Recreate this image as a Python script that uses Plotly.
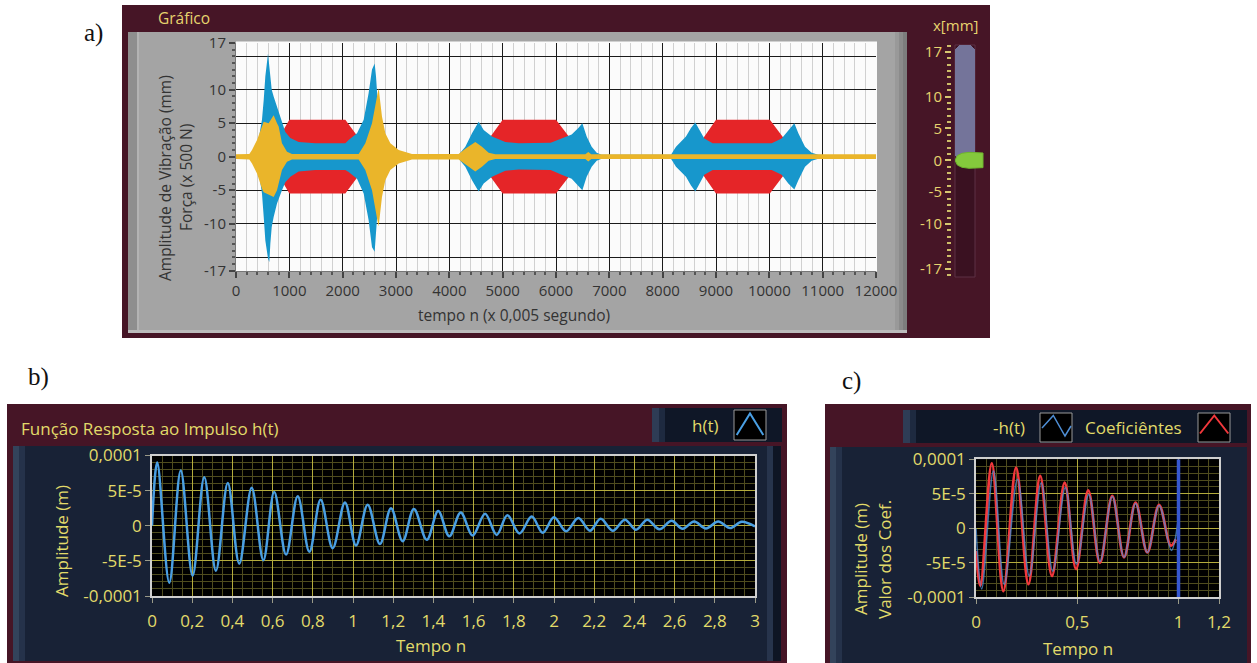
import plotly.graph_objects as go

W, H = 1257, 663
def PX(x): return x / W
def PY(y): return 1 - y / H

# ---------------- data: panel a (envelopes, x in samples) ----------------
a_xticks = [0, 1000, 2000, 3000, 4000, 5000, 6000, 7000, 8000, 9000, 10000, 11000, 12000]
a_yticks = [-17, -10, -5, 0, 5, 10, 17]
a_ygrid = [-15, -10, -5, 0, 5, 10, 15]

red_x = [0, 600, 1000, 2050, 2560, 4500, 5000, 6000, 6530, 8520, 9000, 10010, 10530, 12000]
red_amp = [0, 0, 5.5, 5.5, 0, 0, 5.5, 5.5, 0, 0, 5.5, 5.5, 0, 0]

blue_x = [0, 350, 400, 450, 487, 520, 550, 600, 625, 644, 670, 706, 769, 800, 862, 925, 1019, 1175,
          1487, 2050, 2112, 2269, 2394, 2487, 2550, 2600, 2625, 2644, 2700, 2750, 2800,
          4175, 4300, 4425, 4550, 4644, 4800, 5050, 5300, 5900, 6106, 6294, 6419, 6494, 6575, 6669, 6763, 6856,
          8156, 8250, 8437, 8531, 8612, 8687, 8781, 8937, 10044, 10231, 10356, 10469, 10544, 10669, 10794, 10919, 12000]
blue_hi = [0, 0.3, 1.5, 3.5, 5.5, 8.5, 12, 15.4, 13.5, 11.4, 10, 9, 7.5, 6.5, 5, 3.7, 2.8, 2.2,
           2.0, 2.0, 2.5, 3.5, 5.5, 9.5, 13, 13.9, 12, 10, 3, 1, 0.3,
           0.3, 1.5, 3.5, 5.2, 4.0, 3.0, 2.2, 2.0, 2.1, 2.7, 3.3, 4.3, 5.0, 3.0, 1.5, 0.6, 0.3,
           0.3, 1.5, 3.0, 4.3, 5.1, 4.0, 2.7, 2.0, 2.0, 2.7, 4.0, 5.0, 3.5, 1.5, 0.6, 0.3, 0]
blue_lo = [0, -0.3, -1.5, -3.5, -5.5, -9, -12.5, -15.2, -15.7, -13, -10.5, -9, -7, -6.2, -5, -3.8, -3, -2.2,
           -2.0, -2.0, -2.3, -3.3, -5.5, -9.5, -13.5, -14.2, -12, -9, -3, -1, -0.3,
           -0.3, -1.5, -3.5, -5.2, -4.0, -3.0, -2.1, -1.9, -2.0, -2.7, -3.3, -4.3, -5.0, -3.0, -1.5, -0.6, -0.3,
           -0.3, -1.5, -3.0, -4.3, -5.2, -4.0, -2.7, -2.0, -2.0, -2.7, -4.0, -4.9, -3.5, -1.5, -0.6, -0.3, 0]

yel_x = [0, 250, 300, 394, 487, 519, 612, 706, 769, 800, 862, 956, 1050, 2300, 2425, 2550, 2644, 2675,
         2737, 2800, 2894, 3050, 3300, 4175, 4300, 4487, 4612, 4737, 4862, 6550, 6606, 6660, 12000]
yel_hi = [0.35, 0.4, 1.0, 2.5, 4.5, 5.2, 5.0, 6.2, 5.0, 4.5, 2.0, 0.75, 0.4, 0.4, 2.0, 5.0, 9.0, 10.2,
          6.0, 3.5, 2.0, 1.0, 0.4, 0.4, 1.2, 2.2, 1.5, 0.6, 0.35, 0.35, 0.7, 0.35, 0.35]
yel_lo = [-0.35, -0.4, -1.0, -2.5, -4.8, -5.3, -5.6, -6.0, -5.0, -4.3, -2.0, -0.75, -0.4, -0.4, -2.0, -5.0, -9.2, -10.4,
          -6.0, -3.5, -2.0, -1.0, -0.4, -0.4, -1.2, -2.2, -1.5, -0.6, -0.35, -0.35, -0.7, -0.35, -0.35]

# slider
slider_ticks = [-17, -10, -5, 0, 5, 10, 17]
slider_value = 0.0

# ---------------- data: panel b ----------------
b_xticks = [0, 0.2, 0.4, 0.6, 0.8, 1, 1.2, 1.4, 1.6, 1.8, 2, 2.2, 2.4, 2.6, 2.8, 3]
b_xlabels = ["0", "0,2", "0,4", "0,6", "0,8", "1", "1,2", "1,4", "1,6", "1,8", "2", "2,2", "2,4", "2,6", "2,8", "3"]
amp_ticks = [-1e-4, -5e-5, 0, 5e-5, 1e-4]
amp_labels = ["-0,0001", "-5E-5", "0", "5E-5", "0,0001"]

hb_t = [0, 0.026, 0.086, 0.143, 0.202, 0.26, 0.318, 0.377, 0.434, 0.496, 0.554, 0.608, 0.667, 0.725,
        0.783, 0.839, 0.899, 0.96, 1.015, 1.073, 1.134, 1.189, 1.247, 1.303, 1.367, 1.424, 1.479, 1.536,
        1.595, 1.657, 1.715, 1.768, 1.828, 1.889, 1.944, 2.0, 2.06, 2.121, 2.179, 2.232, 2.292, 2.353,
        2.408, 2.464, 2.524, 2.585, 2.640, 2.697, 2.756, 2.817, 2.876, 2.934, 3.0]
hb_v = [0, 9.0e-5, -8.1e-5, 7.86e-5, -7.1e-5, 6.9e-5, -6.4e-5, 6.1e-5, -5.4e-5, 5.4e-5, -4.9e-5, 4.8e-5,
        -4.1e-5, 4.2e-5, -3.7e-5, 3.7e-5, -3.2e-5, 3.3e-5, -2.8e-5, 3.0e-5, -2.6e-5, 2.5e-5, -2.2e-5, 2.4e-5,
        -2.0e-5, 2.1e-5, -1.5e-5, 1.9e-5, -1.4e-5, 1.7e-5, -1.3e-5, 1.5e-5, -1.1e-5, 1.3e-5, -1.0e-5, 1.2e-5,
        -0.8e-5, 1.1e-5, -0.7e-5, 1.0e-5, -0.7e-5, 0.86e-5, -0.57e-5, 0.86e-5, -0.5e-5, 0.7e-5, -0.43e-5,
        0.6e-5, -0.38e-5, 0.6e-5, -0.33e-5, 0.57e-5, -0.1e-5]

# ---------------- data: panel c ----------------
c_xticks = [0, 0.5, 1, 1.2]
c_xlabels = ["0", "0,5", "1", "1,2"]
coef_t = [0, 0.022, 0.078, 0.135, 0.198, 0.259, 0.317, 0.375, 0.438, 0.494, 0.554, 0.612, 0.673,
          0.731, 0.788, 0.846, 0.904, 0.962, 0.987]
coef_v = [-3.3e-5, -8.3e-5, 9.4e-5, -9.1e-5, 8.8e-5, -8.1e-5, 7.6e-5, -6.9e-5, 6.6e-5, -5.9e-5, 5.5e-5,
          -5.0e-5, 4.7e-5, -4.2e-5, 3.7e-5, -3.5e-5, 3.4e-5, -2.5e-5, -1.6e-5]
negh_t = [0, 0.028, 0.086, 0.139, 0.205, 0.263, 0.322, 0.379, 0.441, 0.496, 0.557, 0.612, 0.673,
          0.731, 0.788, 0.846, 0.904, 0.965, 0.998]
negh_v = [0, -8.8e-5, 8.3e-5, -8.1e-5, 7.1e-5, -6.9e-5, 6.6e-5, -6.2e-5, 5.9e-5, -5.2e-5, 4.9e-5,
          -4.8e-5, 4.6e-5, -4.2e-5, 3.6e-5, -3.5e-5, 3.3e-5, -3.2e-5, 1.1e-5]
cursor_t = 1.0

# ---------------- styles ----------------
FONT = "Open Sans"
MAROON = "#461526"
NAVY = "#182236"
NAVY_D = "#0f1727"
YEL = "#e2db6a"
LBL = "#e6d46e"
RED = "#e52528"
BLUE = "#1797cc"
GOLD = "#eab52a"

fig = go.Figure()

def env(xs, hi, lo, color):
    return go.Scatter(x=xs + xs[::-1], y=hi + lo[::-1], fill="toself", fillcolor=color,
                      mode="lines", line=dict(width=0, color=color), xaxis="x", yaxis="y",
                      hoverinfo="skip", showlegend=False)

# empty trace that carries the horizontal-grid overlay axis of panel a
fig.add_trace(go.Scatter(x=[], y=[], xaxis="x", yaxis="y5", showlegend=False))
fig.add_trace(env(red_x, red_amp, [-a for a in red_amp], RED))
fig.add_trace(env(blue_x, blue_hi, blue_lo, BLUE))
fig.add_trace(env(yel_x, yel_hi, yel_lo, GOLD))

# slider
fig.add_trace(go.Bar(x=[0.5], y=[18.1 - slider_value], base=[slider_value], width=1.0,
                     marker=dict(color="#74749a", line=dict(width=0), cornerradius=7),
                     xaxis="x4", yaxis="y4", hoverinfo="skip", showlegend=False))
ptr_dx = [1.4, 1.4, 0.7, 0.35, 0.12, 0.0, 0.12, 0.35, 0.7, 1.4]
ptr_dy = [-1.15, 1.15, 1.25, 1.1, 0.75, 0.0, -0.75, -1.1, -1.25, -1.15]
fig.add_trace(go.Scatter(x=ptr_dx, y=[slider_value + d for d in ptr_dy], fill="toself",
                         fillcolor="#84c93c", mode="lines", line=dict(width=1, color="#6fb52e"),
                         xaxis="x4", yaxis="y4", hoverinfo="skip", showlegend=False))

# panel b
fig.add_trace(go.Scatter(x=hb_t, y=hb_v, mode="lines",
                         line=dict(color="#4a9fe3", width=2.5, shape="spline", smoothing=1.0),
                         xaxis="x2", yaxis="y2", showlegend=False))
# panel c
fig.add_trace(go.Scatter(x=coef_t, y=coef_v, mode="lines",
                         line=dict(color="#f2383c", width=2.8, shape="spline", smoothing=1.0),
                         xaxis="x3", yaxis="y3", showlegend=False))
fig.add_trace(go.Scatter(x=negh_t, y=negh_v, mode="lines", opacity=0.75,
                         line=dict(color="#4f8fd6", width=1.6, shape="spline", smoothing=1.0),
                         xaxis="x3", yaxis="y3", showlegend=False))
fig.add_trace(go.Scatter(x=[cursor_t, cursor_t], y=[-1e-4, 1e-4], mode="lines",
                         line=dict(color="#3657d0", width=3.5), xaxis="x3", yaxis="y3", showlegend=False))

# ---------------- shapes ----------------
def rect(x0, y0, x1, y1, color, layer="below", line=None):
    return dict(type="rect", xref="paper", yref="paper", x0=PX(x0), x1=PX(x1), y0=PY(y1), y1=PY(y0),
                fillcolor=color, line=line if line else dict(width=0), layer=layer)

shapes = [
    # panel a
    rect(122, 5, 990, 338, MAROON),
    rect(128, 32, 907, 333, "#a4a4a4"),
    rect(128, 32, 137, 333, "#8e8e8e"),
    rect(137, 32, 139, 333, "#b3b3b3"),
    rect(895, 32, 899, 333, "#999999"),
    rect(899, 32, 903, 333, "#8b8b8b"),
    rect(903, 32, 907, 333, "#7d7d7d"),
    rect(128, 330, 907, 333, "#bcbcbc"),
    rect(236, 41.5, 877, 271.5, "#fbfbfb"),
    # panel b
    rect(7, 404, 787, 663, MAROON),
    rect(13, 446, 781, 661, NAVY),
    rect(13, 446, 19, 661, "#33435b"),
    rect(19, 446, 25, 661, "#25324a"),
    rect(767, 446, 773, 661, "#27344c"),
    rect(773, 446, 781, 661, "#0e1524"),
    rect(652, 408, 782, 442, NAVY_D),
    rect(652, 408, 659, 442, "#2e3c55"),
    rect(659, 408, 665, 442, "#1e2a40"),
    rect(734, 410, 766, 440, "#000000", layer="above", line=dict(color="#9a9a9a", width=1)),
    rect(152, 455.5, 755, 596, "#000000"),
    # panel c
    rect(825, 404, 1251, 663, MAROON),
    rect(830, 447, 1247, 663, NAVY),
    rect(830, 447, 836, 663, "#33435b"),
    rect(836, 447, 842, 663, "#25324a"),
    rect(903, 410, 1247, 443, NAVY_D),
    rect(903, 410, 910, 443, "#2e3c55"),
    rect(910, 410, 916, 443, "#1e2a40"),
    rect(1040, 413, 1072, 442, "#000000", layer="above", line=dict(color="#9a9a9a", width=1)),
    rect(1198, 413, 1230, 442, "#000000", layer="above", line=dict(color="#9a9a9a", width=1)),
    rect(976, 459.3, 1219, 597.3, "#000000"),
    # slider tube
    rect(955, 45, 975, 277, "#3a1121", line=dict(color="#5d3044", width=1)),
]

def path(pts, color, width):
    d = "M " + " L ".join(f"{PX(x)},{PY(y)}" for x, y in pts)
    return dict(type="path", xref="paper", yref="paper", path=d, line=dict(color=color, width=width), layer="above")

shapes.append(path([(736.7, 435), (750, 413.5), (763.3, 435)], "#4a9fe3", 2))
shapes.append(path([(1042, 428), (1053.3, 415.5), (1065, 436), (1071, 426)], "#4f8fd6", 1.5))
shapes.append(path([(1200, 433.5), (1214.3, 415.5), (1228.3, 433.5)], "#f2383c", 2))

# ---------------- annotations ----------------
def ann(text, x, y, size=15, color="#333333", angle=0, xanchor="center", family=FONT):
    return dict(text=text, x=PX(x), y=PY(y), xref="paper", yref="paper", showarrow=False,
                xanchor=xanchor, yanchor="middle", textangle=angle,
                font=dict(family=family, size=size, color=color))

annotations = [
    ann("Gráfico", 156, 18, 15.5, LBL, xanchor="left"),
    ann("Amplitude de Vibração (mm)", 165, 178, 15.5, "#333333", -90),
    ann("Força (x 500 N)", 186, 178, 15.5, "#333333", -90),
    ann("tempo n (x 0,005 segundo)", 514, 315, 15.5, "#333333"),
    ann("x[mm]", 955, 25, 15, LBL),
    ann("a)", 93, 33, 25, "#111111", family="Liberation Serif"),
    ann("b)", 38, 377, 25, "#111111", family="Liberation Serif"),
    ann("c)", 851, 381, 25, "#111111", family="Liberation Serif"),
    ann("Função Resposta ao Impulso h(t)", 19, 428, 17, YEL, xanchor="left"),
    ann("h(t)", 721, 425, 17, YEL, xanchor="right"),
    ann("Amplitude (m)", 61, 541, 17, YEL, -90),
    ann("Tempo n", 431, 645, 17, YEL),
    ann("-h(t)", 1027, 427, 17, YEL, xanchor="right"),
    ann("Coeficiêntes", 1133, 427, 17, YEL),
    ann("Amplitude (m)", 860, 559, 17, YEL, -90),
    ann("Valor dos Coef.", 884, 559, 17, YEL, -90),
    ann("Tempo n", 1078, 648, 17, YEL),
]

# ---------------- axes ----------------
gridY = "#b3ab3c"
minorY = "#4f4c1e"

def bc_axis(**kw):
    d = dict(tickmode="array", showgrid=True, gridcolor=gridY, gridwidth=1.2, ticks="outside", ticklen=5,
             tickcolor="#9a9a88", showline=True, mirror=True, linecolor="#cfcfcf", linewidth=1.5,
             zeroline=False, tickfont=dict(size=17, color=YEL), fixedrange=True, automargin=False)
    d.update(kw)
    return d

layout = dict(
    width=W, height=H, margin=dict(l=0, r=0, t=0, b=0, pad=0, autoexpand=False), autosize=False,
    paper_bgcolor="white", plot_bgcolor="rgba(0,0,0,0)", showlegend=False,
    font=dict(family=FONT), shapes=shapes, annotations=annotations, bargap=0,
    xaxis=dict(domain=[PX(236), PX(876)], range=[0, 12000], anchor="y", tickmode="array",
               tickvals=a_xticks, ticktext=[str(v) for v in a_xticks], showgrid=True,
               gridcolor="#1a1a1a", gridwidth=1.3, ticks="outside", ticklen=6, tickwidth=1.5,
               tickcolor="#444444", showline=True, linecolor="#777777", linewidth=1, zeroline=False,
               tickfont=dict(size=15, color="#333333"), fixedrange=True, automargin=False,
               minor=dict(tickmode="linear", tick0=0, dtick=200, ticks="outside", ticklen=3,
                          tickcolor="#555555", showgrid=True, gridcolor="#d0d0d0", gridwidth=1.4)),
    yaxis=dict(domain=[PY(270.6), PY(42.8)], range=[-17, 17], anchor="x", tickmode="array",
               tickvals=a_yticks, ticktext=[str(v) for v in a_yticks], showgrid=False,
               ticks="outside", ticklen=6, tickwidth=1.5, tickcolor="#444444", showline=True,
               linecolor="#777777", linewidth=1, zeroline=False, fixedrange=True, automargin=False,
               tickfont=dict(size=15, color="#333333"),
               minor=dict(tickmode="linear", tick0=0, dtick=1, ticks="outside", ticklen=3,
                          tickcolor="#555555", showgrid=False)),
    yaxis5=dict(overlaying="y", anchor="x", range=[-17, 17], tickmode="array", tickvals=a_ygrid,
                showgrid=True, gridcolor="#1a1a1a", gridwidth=1.4, showticklabels=False, ticks="",
                zeroline=False, showline=False, fixedrange=True, automargin=False),
    xaxis2=bc_axis(domain=[PX(152), PX(755)], range=[0, 3], anchor="y2", tickvals=b_xticks,
                   ticktext=b_xlabels, ticklabelstandoff=4,
                   minor=dict(tickmode="linear", tick0=0, dtick=0.05, showgrid=True, gridcolor=minorY, gridwidth=1)),
    yaxis2=bc_axis(domain=[PY(596), PY(455.5)], range=[-1e-4, 1e-4], anchor="x2", tickvals=amp_ticks,
                   ticktext=amp_labels,
                   minor=dict(tickmode="linear", tick0=0, dtick=1e-5, showgrid=True, gridcolor=minorY, gridwidth=1)),
    xaxis3=bc_axis(domain=[PX(976), PX(1219)], range=[0, 1.2], anchor="y3", tickvals=c_xticks,
                   ticktext=c_xlabels, ticklabelstandoff=4,
                   minor=dict(tickmode="linear", tick0=0, dtick=0.05, showgrid=True, gridcolor=minorY, gridwidth=1)),
    yaxis3=bc_axis(domain=[PY(597.3), PY(459.3)], range=[-1e-4, 1e-4], anchor="x3", tickvals=amp_ticks,
                   ticktext=amp_labels,
                   minor=dict(tickmode="linear", tick0=0, dtick=1e-5, showgrid=True, gridcolor=minorY, gridwidth=1)),
    xaxis4=dict(domain=[PX(955), PX(985)], range=[0, 1.5], anchor="y4", visible=False, fixedrange=True,
                automargin=False),
    yaxis4=dict(domain=[PY(276.9), PY(45.0)], range=[-18.3, 18.1], anchor="free", position=PX(951),
                tickmode="array", tickvals=slider_ticks, ticktext=[str(v) for v in slider_ticks],
                showgrid=False, zeroline=False, showline=False, ticks="outside", ticklen=6, tickwidth=1.5,
                tickcolor="#d8c870", tickfont=dict(size=15, color=LBL), fixedrange=True, automargin=False,
                minor=dict(tickmode="linear", tick0=0, dtick=1, ticks="outside", ticklen=4,
                           tickcolor="#cdbd68", showgrid=False)),
)
fig.update_layout(**layout)
fig.write_html("out.html")
